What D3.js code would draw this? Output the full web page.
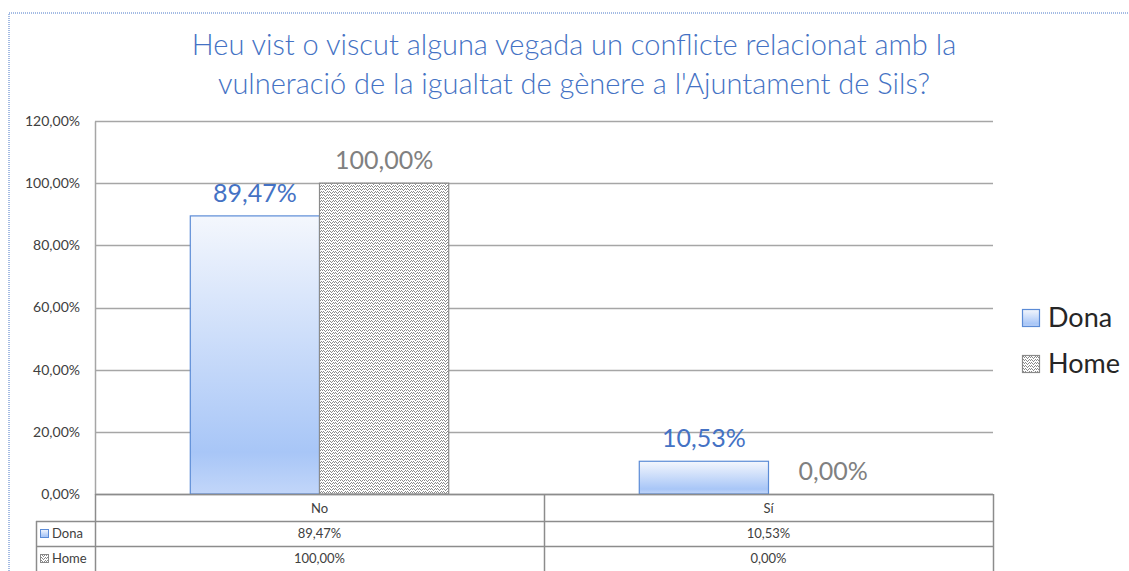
<!DOCTYPE html>
<html lang="ca">
<head>
<meta charset="utf-8" />
<title>Conflicte igualtat de gènere</title>
<script src="https://d3js.org/d3.v7.min.js"></script>
<style>
  body { margin: 0; background: #fff; }
  svg { display: block; font-family: Lato, "Open Sans", sans-serif; }
</style>
</head>
<body>
<div id="chart"></div>
<script>
  // data
  const categories = ["No", "Sí"];
  const seriesNames = ["Dona", "Home"];
  const dona = [89.47, 10.53];
  const home = [100.0, 0.0];
  const yTicks = [0, 20, 40, 60, 80, 100, 120];
  const titleLines = [
    "Heu vist o viscut alguna vegada un conflicte relacionat amb la",
    "vulneració de la igualtat de gènere a l'Ajuntament de Sils?"
  ];

  const width = 1129, height = 571;
  const plot = { left: 95, right: 993, top: 121, bottom: 494 };
  const fmt = v => v.toFixed(2).replace(".", ",") + "%";

  const svg = d3.select("#chart").append("svg")
    .attr("width", width).attr("height", height);

  const defs = svg.append("defs");
  const grad = defs.append("linearGradient")
    .attr("id", "donaGrad").attr("x1", 0).attr("y1", 0).attr("x2", 0).attr("y2", 1);
  grad.append("stop").attr("offset", "0%").attr("stop-color", "#f4f7fd");
  grad.append("stop").attr("offset", "85%").attr("stop-color", "#a8c6f7");
  grad.append("stop").attr("offset", "100%").attr("stop-color", "#c2d6f9");

  const pat = defs.append("pattern")
    .attr("id", "homePat").attr("patternUnits", "userSpaceOnUse")
    .attr("width", 6).attr("height", 6);
  pat.append("rect").attr("width", 6).attr("height", 6).attr("fill", "#fff");
  [[0,0],[2,0],[1,1],[3,2],[5,2],[4,3],[0,3],[2,3],[1,4],[3,5],[5,5],[4,0]].forEach(([x, y]) => {
    pat.append("rect").attr("x", x).attr("y", y).attr("width", 1).attr("height", 1).attr("fill", "#8a8a8a");
  });

  // chart frame (dotted)
  svg.append("rect")
    .attr("x", 9).attr("y", 13).attr("width", 1140).attr("height", 600)
    .attr("fill", "none").attr("stroke", "#4a78c8")
    .attr("stroke-width", 1).attr("stroke-dasharray", "1,1");

  // title
  svg.append("text")
    .attr("text-anchor", "middle").attr("fill", "#4472c4")
    .attr("font-size", 29).attr("font-weight", 300)
    .selectAll("tspan").data(titleLines).enter().append("tspan")
    .attr("x", 574).attr("y", (d, i) => 55 + i * 39)
    .text(d => d);

  const x0 = d3.scaleBand().domain(categories).range([plot.left, plot.right]);
  const x1 = d3.scaleBand().domain(seriesNames).range([0, x0.bandwidth()]).paddingOuter(0.7374);
  const y = d3.scaleLinear().domain([0, 120]).range([plot.bottom, plot.top]);

  // gridlines
  svg.append("g").selectAll("line").data(yTicks).enter().append("line")
    .attr("x1", plot.left).attr("x2", plot.right)
    .attr("y1", d => Math.round(y(d)) + 0.5).attr("y2", d => Math.round(y(d)) + 0.5)
    .attr("stroke", "#a6a6a6").attr("stroke-width", 1.3);

  // y axis
  const yAxis = svg.append("g")
    .attr("transform", `translate(${plot.left},0)`)
    .call(d3.axisLeft(y).tickValues(yTicks).tickSize(0).tickPadding(15).tickFormat(fmt));
  yAxis.select(".domain").attr("stroke", "#a6a6a6").attr("stroke-width", 1.5);
  yAxis.selectAll("text").attr("font-size", 14).attr("fill", "#404040")
    .attr("font-family", "Lato, sans-serif");

  // bars
  const seriesData = [
    { name: "Dona", values: dona, fill: "url(#donaGrad)", stroke: "#5b8bd6", label: "#4472c4" },
    { name: "Home", values: home, fill: "url(#homePat)", stroke: "#8a8a8a", label: "#808080" }
  ];

  seriesData.forEach(s => {
    const g = svg.append("g");
    g.selectAll("rect").data(s.values).enter().append("rect")
      .attr("x", (d, i) => x0(categories[i]) + x1(s.name))
      .attr("y", d => y(d))
      .attr("width", x1.bandwidth())
      .attr("height", d => y(0) - y(d))
      .attr("fill", s.fill)
      .attr("stroke", d => d > 0 ? s.stroke : "none")
      .attr("stroke-width", 1.2);
    g.selectAll("text").data(s.values).enter().append("text")
      .attr("x", (d, i) => x0(categories[i]) + x1(s.name) + x1.bandwidth() / 2)
      .attr("y", d => y(d) - 14)
      .attr("text-anchor", "middle")
      .attr("font-size", 25)
      .attr("fill", s.label)
      .text(d => fmt(d));
  });

  // data table
  const rowY = [494, 521, 546, 571];
  const tbl = svg.append("g").attr("stroke", "#8c8c8c").attr("stroke-width", 1.5);
  tbl.append("line").attr("x1", plot.left).attr("x2", plot.right).attr("y1", 494.5).attr("y2", 494.5);
  [521, 546].forEach(yy => {
    tbl.append("line").attr("x1", 36).attr("x2", plot.right).attr("y1", yy + 0.5).attr("y2", yy + 0.5);
  });
  [plot.left, x0("Sí"), plot.right].forEach(xx => {
    tbl.append("line").attr("x1", xx + 0.5).attr("x2", xx + 0.5).attr("y1", 494).attr("y2", 571);
  });
  tbl.append("line").attr("x1", 36.5).attr("x2", 36.5).attr("y1", 521).attr("y2", 571);

  const tt = svg.append("g").attr("font-size", 13).attr("fill", "#404040");
  tt.selectAll(".cat").data(categories).enter().append("text")
    .attr("x", d => x0(d) + x0.bandwidth() / 2).attr("y", 513)
    .attr("text-anchor", "middle").text(d => d);
  seriesData.forEach((s, r) => {
    tt.selectAll(".v" + r).data(s.values).enter().append("text")
      .attr("x", (d, i) => x0(categories[i]) + x0.bandwidth() / 2)
      .attr("y", rowY[r + 1] + 17)
      .attr("text-anchor", "middle").text(d => fmt(d));
    tt.append("rect").attr("x", 40.5).attr("y", rowY[r + 1] + 8.5).attr("width", 8).attr("height", 8)
      .attr("fill", s.fill).attr("stroke", s.stroke).attr("stroke-width", 1);
    tt.append("text").attr("x", 52).attr("y", rowY[r + 1] + 17).text(s.name);
  });

  // legend
  const lg = svg.append("g");
  seriesData.forEach((s, i) => {
    const ly = 309 + i * 46;
    lg.append("rect").attr("x", 1022.5).attr("y", ly + 0.5).attr("width", 17).attr("height", 17)
      .attr("fill", s.fill).attr("stroke", s.stroke).attr("stroke-width", 1.2);
    lg.append("text").attr("x", 1048).attr("y", ly + 18)
      .attr("font-size", 27).attr("fill", "#262626").text(s.name);
  });
</script>
</body>
</html>
